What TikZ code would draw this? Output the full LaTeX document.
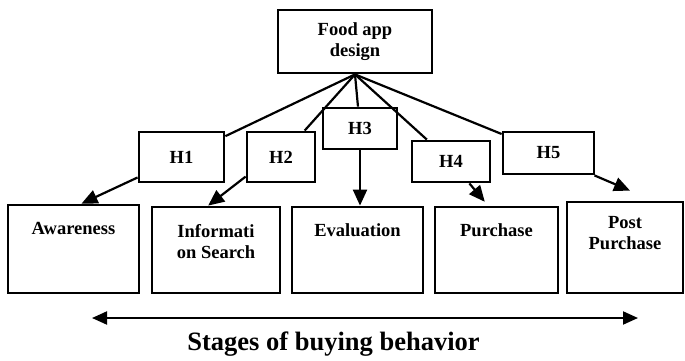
\documentclass[tikz,border=0pt]{standalone}
\usepackage{fontspec}
\setmainfont{Liberation Serif}
\usetikzlibrary{arrows.meta,positioning,calc}

\begin{document}
\begin{tikzpicture}[
  x=1pt, y=1pt,
  box/.style={draw, line width=2.8pt, inner sep=0pt, font=\fontsize{18.5}{21}\selectfont\bfseries, align=center},
  txt/.style={anchor=north, yshift=-18pt, inner sep=0pt, font=\fontsize{18.5}{21}\selectfont\bfseries, align=center},
  link/.style={line width=2.2pt},
  arrow/.style={-{Triangle[length=16pt,width=14pt]}, line width=2.2pt}
]
  \useasboundingbox (0,0) rectangle (685,360);

  % app design on top
  \node[box, minimum width=154pt, minimum height=63pt] (food) at (355,318.5) {Food app\\design};

  % hypotheses
  \node[box, minimum width=85pt, minimum height=50pt] (h1) at (181.5,203) {H1};
  \node[box, minimum width=68pt, minimum height=50pt] (h2) at (281,203) {H2};
  \node[box, minimum width=74pt, minimum height=41pt] (h3) at (360,231.5) {H3};
  \node[box, minimum width=78pt, minimum height=41pt] (h4) at (451,198.5) {H4};
  \node[box, minimum width=91pt, minimum height=42pt] (h5) at (548.5,207) {H5};

  % buying stages
  \node[box, minimum width=131pt, minimum height=88pt, label={[txt]north:Awareness}] (aware) at (73.5,111) {};
  \node[box, minimum width=128pt, minimum height=86pt, label={[txt, yshift=-1pt]north:Informati\\on Search}] (info) at (216,110) {};
  \node[box, minimum width=131pt, minimum height=86pt, label={[txt]north:Evaluation}] (eval) at (357.5,110) {};
  \node[box, minimum width=123pt, minimum height=86pt, label={[txt]north:Purchase}] (purch) at (496.5,110) {};
  \node[box, minimum width=116pt, minimum height=91pt, label={[txt, yshift=2pt]north:Post\\Purchase}] (post) at (625,112.5) {};

  % fan out from the top box
  \foreach \h in {h1,h2,h3,h4,h5}
    \draw[link] (food.south) -- (\h);

  % hypothesis -> stage
  \draw[arrow] (h1.205) -- (aware.80);
  \draw[arrow] (h2.209) -- (info.100);
  \draw[arrow] (h3.south) -- (h3.south |- eval.north);
  \draw[arrow, shorten >=5pt] (h4.310) -- ($(purch.north)+(-8.5,0)$);
  \draw[arrow] (h5.334) -- ($(post.north)+(5,10)$);

  % stages axis
  \coordinate (lend) at (92,42);
  \coordinate (rend) at (638,42);
  \draw[{Triangle[length=15pt,width=13pt]}-{Triangle[length=15pt,width=13pt]}, line width=2pt] (lend) -- (rend);
  \node[anchor=base, inner sep=0pt, font=\fontsize{26.5}{30}\selectfont\bfseries] (title) at (333.5,10) {Stages of buying behavior};
\end{tikzpicture}
\end{document}
